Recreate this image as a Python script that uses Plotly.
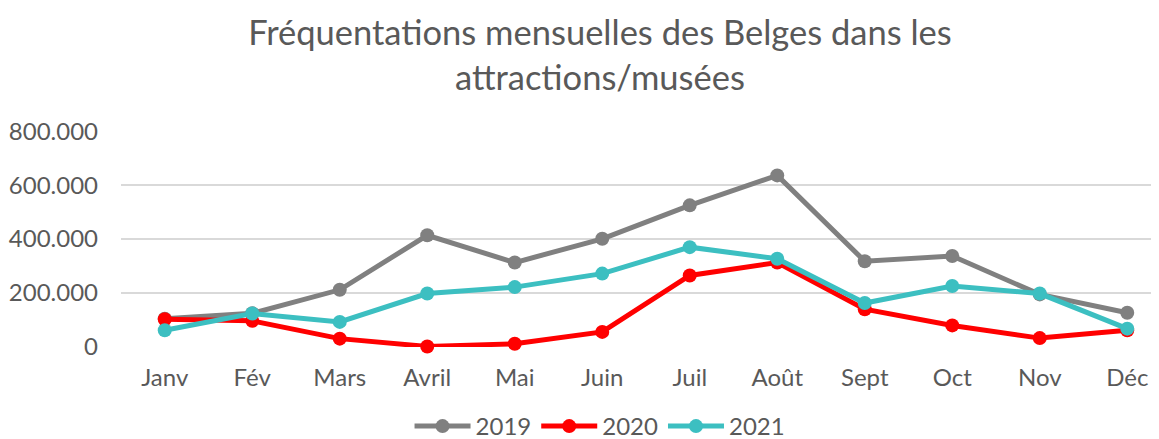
import plotly.graph_objects as go

months = ["Janv", "Fév", "Mars", "Avril", "Mai", "Juin", "Juil", "Août", "Sept", "Oct", "Nov", "Déc"]
v2019 = [105000, 125000, 212000, 414000, 313000, 401000, 525000, 636000, 318000, 337000, 195000, 127000]
v2020 = [103000, 97000, 31000, 2000, 12000, 56000, 265000, 313000, 140000, 80000, 33000, 62000]
v2021 = [62000, 124000, 93000, 198000, 222000, 272000, 370000, 327000, 163000, 226000, 198000, 68000]
yticks = [0, 200000, 400000, 600000, 800000]
yticktext = ["0", "200.000", "400.000", "600.000", "800.000"]

series = [("2019", v2019, "#808080"), ("2020", v2020, "#FF0000"), ("2021", v2021, "#3CBFC1")]

fig = go.Figure()
for name, vals, col in series:
    fig.add_trace(go.Scatter(
        x=list(range(len(months))), y=vals, name=name, mode="lines+markers",
        line=dict(color=col, width=5), marker=dict(color=col, size=14),
        cliponaxis=False,
    ))

# page has an 8px body margin, so the figure is shifted by 8px
W, H = 1151, 431
top, bottom = 122.7, 338.7
fig.update_layout(
    width=W, height=H,
    margin=dict(l=113, r=0, t=top, b=H - bottom, autoexpand=False),
    paper_bgcolor="white", plot_bgcolor="white",
    font=dict(family="Lato", color="#595959", size=24),
    title=dict(text="Fréquentations mensuelles des Belges dans les<br>attractions/musées",
               x=0.5143, xanchor="center", y=0.914, yanchor="top",
               font=dict(size=34.5, color="#595959")),
    xaxis=dict(range=[-0.5, 11.363], tickmode="array", tickvals=list(range(12)), ticktext=months,
               showgrid=False, zeroline=False, showline=False, ticks="", ticklabelstandoff=14,
               automargin=False, tickfont=dict(size=24)),
    yaxis=dict(range=[0, 800500], tickmode="array", tickvals=yticks, ticktext=yticktext,
               showgrid=True, gridcolor="#D9D9D9", gridwidth=1.5, zeroline=False,
               showline=False, ticks="", ticklabelstandoff=22, automargin=False,
               tickfont=dict(size=24)),
    legend=dict(orientation="h", x=0.4615, xanchor="center", y=-0.368, yanchor="middle",
                font=dict(size=24, color="#595959"), itemwidth=56, tracegroupgap=0),
    showlegend=True,
)

fig.write_html("out.html")
